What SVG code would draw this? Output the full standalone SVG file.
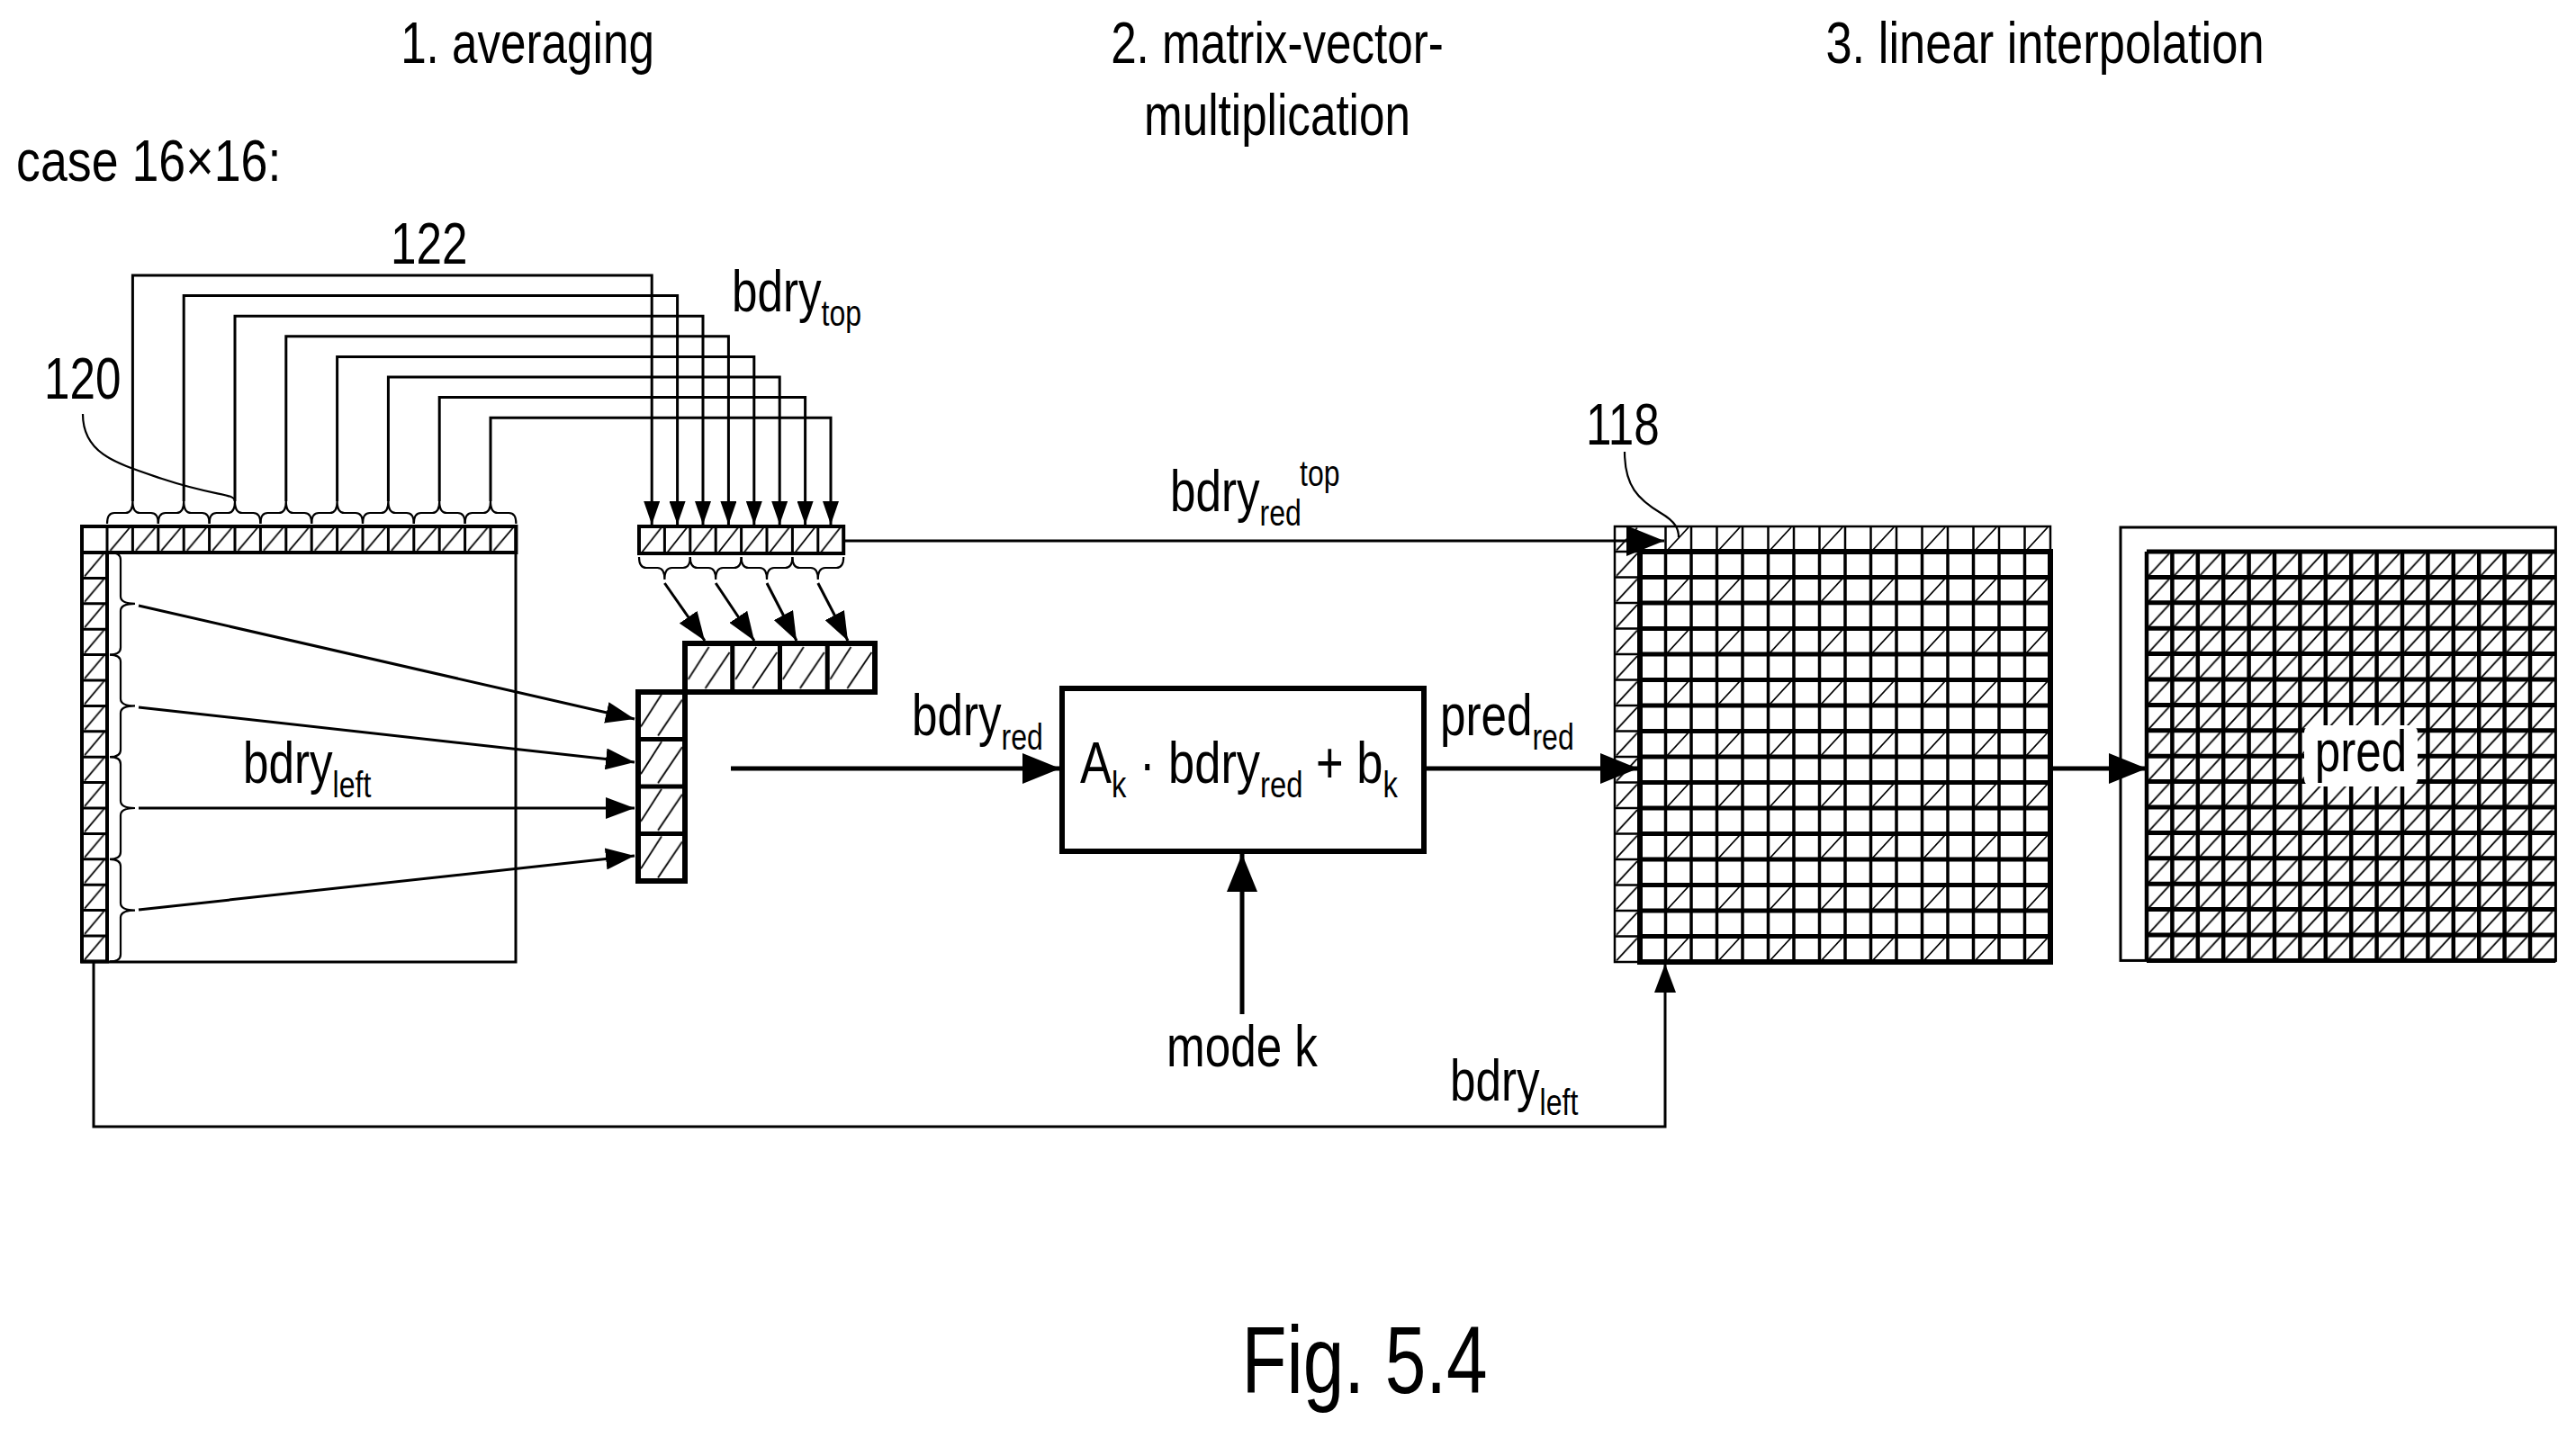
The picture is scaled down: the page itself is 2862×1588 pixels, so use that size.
<svg xmlns="http://www.w3.org/2000/svg" xmlns:xlink="http://www.w3.org/1999/xlink" width="2862" height="1588" viewBox="0 0 2862 1588">
<style>
text{font-family:"Liberation Sans",Arial,sans-serif;fill:#000;font-size:64px}
.sub{font-size:40px}
.fig{font-size:105px}
.ln{fill:none;stroke:#000;stroke-width:3}
.th{fill:none;stroke:#000;stroke-width:5}
.hl{stroke:#000;stroke-width:1.8}
.br{fill:none;stroke:#000;stroke-width:2.2}
</style>
<defs>
<pattern id="hL" patternUnits="userSpaceOnUse" x="91" y="585" width="28.4" height="28.4"><line class="hl" x1="3" y1="27" x2="25" y2="1"/></pattern>
<pattern id="hS" patternUnits="userSpaceOnUse" x="710" y="585" width="28.4" height="30"><line class="hl" x1="3" y1="29" x2="25" y2="1"/></pattern>
<pattern id="hR" patternUnits="userSpaceOnUse" x="709" y="715" width="52.6" height="52.6"><line class="hl" x1="3" y1="40" x2="26" y2="4"/><line class="hl" x1="22" y1="50" x2="49" y2="10"/></pattern>
<pattern id="hG" patternUnits="userSpaceOnUse" x="1794" y="613" width="28" height="28.5"><line class="hl" x1="2" y1="27" x2="25" y2="2"/></pattern>
<pattern id="hT" patternUnits="userSpaceOnUse" x="1822" y="585" width="57" height="28"><line class="hl" x1="30" y1="27" x2="54" y2="1"/></pattern>
<pattern id="hI" patternUnits="userSpaceOnUse" x="1822" y="613" width="57" height="57"><line class="hl" x1="30" y1="56" x2="54" y2="30"/></pattern>
<pattern id="hP" patternUnits="userSpaceOnUse" x="2385" y="613" width="28.4" height="28.4"><line class="hl" x1="2" y1="27" x2="25" y2="2"/></pattern>
<marker id="aS" markerUnits="userSpaceOnUse" markerWidth="26" markerHeight="18" refX="26" refY="9" orient="auto"><path d="M0,0 L26,9 L0,18 Z"/></marker>
<marker id="aM" markerUnits="userSpaceOnUse" markerWidth="32" markerHeight="24" refX="32" refY="12" orient="auto"><path d="M0,0 L32,12 L0,24 Z"/></marker>
<marker id="aB" markerUnits="userSpaceOnUse" markerWidth="42" markerHeight="34" refX="42" refY="17" orient="auto"><path d="M0,0 L42,17 L0,34 Z"/></marker>
<path id="braceU" class="br" d="M0,25 Q0,13 8,13 H20.4 Q28.4,13 28.4,0 Q28.4,13 36.4,13 H48.8 Q56.8,13 56.8,25"/>
<path id="braceD" class="br" d="M0,0 Q0,12 8,12 H20.4 Q28.4,12 28.4,25 Q28.4,12 36.4,12 H48.8 Q56.8,12 56.8,0"/>
<path id="braceR" class="br" d="M0,0 Q12,0 12,8 V48.8 Q12,56.8 28,56.8 Q12,56.8 12,64.8 V105.6 Q12,113.6 0,113.6"/>
</defs>
<rect width="2862" height="1588" fill="#fff"/>

<g id="titles">
<text transform="translate(586,70) scale(0.8,1)" text-anchor="middle">1. averaging</text>
<text transform="translate(1419,70) scale(0.8,1)" text-anchor="middle">2. matrix-vector-</text>
<text transform="translate(1419,150) scale(0.8,1)" text-anchor="middle">multiplication</text>
<text transform="translate(2272,70) scale(0.82,1)" text-anchor="middle">3. linear interpolation</text>
<text transform="translate(18,201) scale(0.84,1)">case 16×16:</text>
<text class="fig" transform="translate(1516,1548) scale(0.78,1)" text-anchor="middle">Fig. 5.4</text>
</g>

<g id="block-input">
<rect x="91" y="585" width="482" height="484" class="ln"/>
<rect x="119" y="585" width="454.4" height="29" fill="url(#hL)"/>
<rect x="91" y="614" width="28" height="454.4" fill="url(#hL)"/>
<rect x="91" y="585" width="482.4" height="29" fill="none" stroke="#000" stroke-width="4"/>
<rect x="91" y="614" width="28" height="454.4" fill="none" stroke="#000" stroke-width="4"/>
<path class="ln" d="M119,585V614M147.4,585V614M175.8,585V614M204.2,585V614M232.6,585V614M261,585V614M289.4,585V614M317.8,585V614M346.2,585V614M374.6,585V614M403,585V614M431.4,585V614M459.8,585V614M488.2,585V614M516.6,585V614M545,585V614"/>
<path class="ln" d="M91,642.4H119M91,670.8H119M91,699.2H119M91,727.6H119M91,756H119M91,784.4H119M91,812.8H119M91,841.2H119M91,869.6H119M91,898H119M91,926.4H119M91,954.8H119M91,983.2H119M91,1011.6H119M91,1040H119"/>
<text transform="translate(49,443) scale(0.8,1)">120</text>
<path class="br" d="M92,460 C92,505 130,515 180,532 C240,552 261,548 261,557"/>
<text transform="translate(434,293) scale(0.8,1)">122</text>
<use href="#braceU" x="119" y="557"/><use href="#braceU" x="175.8" y="557"/><use href="#braceU" x="232.6" y="557"/><use href="#braceU" x="289.4" y="557"/>
<use href="#braceU" x="346.2" y="557"/><use href="#braceU" x="403" y="557"/><use href="#braceU" x="459.8" y="557"/><use href="#braceU" x="516.6" y="557"/>
<use href="#braceR" x="122" y="614"/><use href="#braceR" x="122" y="727.6"/><use href="#braceR" x="122" y="841.2"/><use href="#braceR" x="122" y="954.8"/>
<text transform="translate(270,870) scale(0.8,1)">bdry<tspan class="sub" dy="16">left</tspan></text>
</g>

<g id="bdry-top">
<rect x="710" y="585" width="227.2" height="30" fill="url(#hS)"/>
<rect x="710" y="585" width="227.2" height="30" fill="none" stroke="#000" stroke-width="4"/>
<path class="ln" d="M738.4,585V615M766.8,585V615M795.2,585V615M823.6,585V615M852,585V615M880.4,585V615M908.8,585V615"/>
<text transform="translate(813,346) scale(0.8,1)">bdry<tspan class="sub" dy="16">top</tspan></text>
<use href="#braceD" x="710" y="619"/><use href="#braceD" x="766.8" y="619"/><use href="#braceD" x="823.6" y="619"/><use href="#braceD" x="880.4" y="619"/>
</g>

<g id="bdry-red">
<rect x="761" y="715" width="211" height="54" fill="url(#hR)"/>
<rect x="709" y="769" width="52" height="210" fill="url(#hR)"/>
<path d="M709,979 V769 H761 V715 H972 V769 H761 V979 Z" fill="none" stroke="#000" stroke-width="6"/>
<path d="M813.75,715V769M866.5,715V769M919.25,715V769M709,821.5H761M709,874H761M709,926.5H761" fill="none" stroke="#000" stroke-width="5"/>
</g>

<g id="matrix">
<rect x="1180" y="765" width="402" height="181" fill="#fff" stroke="#000" stroke-width="6"/>
<text transform="translate(1200,870) scale(0.82,1)">A<tspan class="sub" dy="16">k</tspan><tspan dy="-16"> · bdry</tspan><tspan class="sub" dy="16">red</tspan><tspan dy="-16"> + b</tspan><tspan class="sub" dy="16">k</tspan></text>
<text transform="translate(1380,1185) scale(0.8,1)" text-anchor="middle">mode k</text>
</g>

<g id="interp">
<rect x="1822" y="585" width="456" height="28" fill="url(#hT)"/>
<rect x="1794" y="585" width="28" height="484" fill="url(#hG)"/>
<rect x="1822" y="613" width="456" height="456" fill="url(#hI)"/>
<rect x="1794" y="585" width="484" height="484" fill="none" stroke="#000" stroke-width="2.5"/>
<path fill="none" stroke="#000" stroke-width="2.5" d="M1850.5,585V613M1879,585V613M1907.5,585V613M1936,585V613M1964.5,585V613M1993,585V613M2021.5,585V613M2050,585V613M2078.5,585V613M2107,585V613M2135.5,585V613M2164,585V613M2192.5,585V613M2221,585V613M2249.5,585V613M1794,613H1822M1794,641.5H1822M1794,670H1822M1794,698.5H1822M1794,727H1822M1794,755.5H1822M1794,784H1822M1794,812.5H1822M1794,841H1822M1794,869.5H1822M1794,898H1822M1794,926.5H1822M1794,955H1822M1794,983.5H1822M1794,1012H1822M1794,1040.5H1822"/>
<path fill="none" stroke="#000" stroke-width="3.5" d="M1850.5,613V1069M1879,613V1069M1907.5,613V1069M1936,613V1069M1964.5,613V1069M1993,613V1069M2021.5,613V1069M2050,613V1069M2078.5,613V1069M2107,613V1069M2135.5,613V1069M2164,613V1069M2192.5,613V1069M2221,613V1069M2249.5,613V1069"/>
<path fill="none" stroke="#000" stroke-width="5" d="M1822,641.5H2278M1822,670H2278M1822,698.5H2278M1822,727H2278M1822,755.5H2278M1822,784H2278M1822,812.5H2278M1822,841H2278M1822,869.5H2278M1822,898H2278M1822,926.5H2278M1822,955H2278M1822,983.5H2278M1822,1012H2278M1822,1040.5H2278"/>
<rect x="1822" y="613" width="456" height="456" fill="none" stroke="#000" stroke-width="6"/>
<text transform="translate(1762,494) scale(0.8,1)">118</text>
<path class="br" d="M1805,502 C1805,540 1820,555 1845,570 C1862,580 1865,588 1865,597"/>
</g>

<g id="pred">
<rect x="2385" y="613" width="454.4" height="454.4" fill="url(#hP)"/>
<rect x="2356" y="586" width="483.4" height="481.4" fill="none" stroke="#000" stroke-width="3"/>
<path fill="none" stroke="#000" stroke-width="4.5" d="M2385,613V1067.4M2413.4,613V1067.4M2441.8,613V1067.4M2470.2,613V1067.4M2498.6,613V1067.4M2527,613V1067.4M2555.4,613V1067.4M2583.8,613V1067.4M2612.2,613V1067.4M2640.6,613V1067.4M2669,613V1067.4M2697.4,613V1067.4M2725.8,613V1067.4M2754.2,613V1067.4M2782.6,613V1067.4M2811,613V1067.4"/>
<path fill="none" stroke="#000" stroke-width="5" d="M2385,613H2839.4M2385,641.4H2839.4M2385,669.8H2839.4M2385,698.2H2839.4M2385,726.6H2839.4M2385,755H2839.4M2385,783.4H2839.4M2385,811.8H2839.4M2385,840.2H2839.4M2385,868.6H2839.4M2385,897H2839.4M2385,925.4H2839.4M2385,953.8H2839.4M2385,982.2H2839.4M2385,1010.6H2839.4M2385,1039H2839.4M2385,1067.4H2839.4"/>
<rect x="2560" y="806" width="126" height="68" fill="#fff" rx="8"/>
<text transform="translate(2623,857) scale(0.8,1)" text-anchor="middle">pred</text>
</g>

<g id="connectors">
<path class="ln" marker-end="url(#aS)" d="M147.4,557V306H724.2V583"/>
<path class="ln" marker-end="url(#aS)" d="M204.2,557V328.6H752.6V583"/>
<path class="ln" marker-end="url(#aS)" d="M261,557V351.2H781V583"/>
<path class="ln" marker-end="url(#aS)" d="M317.8,557V373.8H809.4V583"/>
<path class="ln" marker-end="url(#aS)" d="M374.6,557V396.4H837.8V583"/>
<path class="ln" marker-end="url(#aS)" d="M431.4,557V419H866.2V583"/>
<path class="ln" marker-end="url(#aS)" d="M488.2,557V441.6H894.6V583"/>
<path class="ln" marker-end="url(#aS)" d="M545,557V464.2H923V583"/>
<path class="ln" marker-end="url(#aM)" d="M738.4,648L783,712"/>
<path class="ln" marker-end="url(#aM)" d="M795.2,648L838,712"/>
<path class="ln" marker-end="url(#aM)" d="M852,648L885,712"/>
<path class="ln" marker-end="url(#aM)" d="M908.8,648L942,712"/>
<path class="ln" stroke-width="4" marker-end="url(#aM)" d="M154,673L705,799"/>
<path class="ln" stroke-width="4" marker-end="url(#aM)" d="M154,786L705,847"/>
<path class="ln" stroke-width="3" marker-end="url(#aM)" d="M154,898H705"/>
<path class="ln" stroke-width="4" marker-end="url(#aM)" d="M154,1011L705,951"/>
<path class="th" marker-end="url(#aB)" d="M812,854H1178"/>
<path class="th" marker-end="url(#aB)" d="M1582,854H1820"/>
<path class="th" marker-end="url(#aB)" d="M1380,1127V949"/>
<path class="th" marker-end="url(#aB)" d="M2278,854H2385"/>
<path class="ln" stroke-width="5" marker-end="url(#aB)" d="M937,601H1849"/>
<path class="ln" marker-end="url(#aM)" d="M104,1069V1252H1850V1071"/>
<text transform="translate(1013,817) scale(0.8,1)">bdry<tspan class="sub" dy="16">red</tspan></text>
<text transform="translate(1600,817) scale(0.8,1)">pred<tspan class="sub" dy="16">red</tspan></text>
<text transform="translate(1300,568) scale(0.8,1)">bdry<tspan class="sub" dy="16">red</tspan></text>
<text transform="translate(1444,540) scale(0.8,1)" class="sub">top</text>
<text transform="translate(1611,1223) scale(0.8,1)">bdry<tspan class="sub" dy="16">left</tspan></text>
</g>
</svg>
